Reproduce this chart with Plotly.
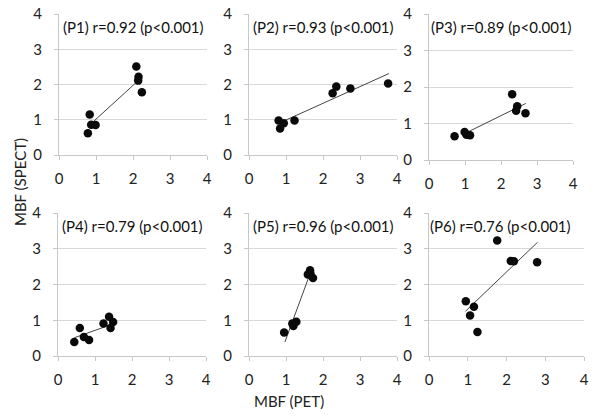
import plotly.graph_objects as go

# MBF (PET) vs MBF (SPECT), six patients
panel_labels = ["(P1) r=0.92 (p<0.001)", "(P2) r=0.93 (p<0.001)", "(P3) r=0.89 (p<0.001)",
                "(P4) r=0.79 (p<0.001)", "(P5) r=0.96 (p<0.001)", "(P6) r=0.76 (p<0.001)"]

p1_x = [0.83, 0.87, 0.99, 0.78, 2.09, 2.15, 2.14, 2.24]
p1_y = [1.15, 0.86, 0.85, 0.62, 2.51, 2.22, 2.11, 1.78]
p2_x = [0.80, 0.84, 0.94, 1.23, 2.26, 2.36, 2.74, 3.76]
p2_y = [0.98, 0.75, 0.90, 0.98, 1.75, 1.94, 1.89, 2.03]
p3_x = [0.71, 0.99, 1.04, 1.14, 2.31, 2.45, 2.42, 2.68]
p3_y = [0.65, 0.77, 0.69, 0.68, 1.80, 1.47, 1.35, 1.28]
p4_x = [0.44, 0.59, 0.70, 0.84, 1.23, 1.38, 1.49, 1.42]
p4_y = [0.39, 0.78, 0.53, 0.45, 0.91, 1.10, 0.95, 0.78]
p5_x = [0.95, 1.17, 1.20, 1.28, 1.65, 1.59, 1.66, 1.73]
p5_y = [0.66, 0.91, 0.84, 0.96, 2.40, 2.28, 2.31, 2.18]
p6_x = [1.76, 2.11, 2.19, 2.79, 0.95, 1.16, 1.06, 1.25]
p6_y = [3.23, 2.66, 2.65, 2.62, 1.53, 1.38, 1.13, 0.67]

# linear trendline end points
fit_x = [[0.90, 2.11], [0.89, 3.78], [0.94, 2.69], [0.44, 1.52], [0.97, 1.66], [0.94, 2.80]]
fit_y = [[0.92, 2.08], [0.94, 2.31], [0.70, 1.55], [0.51, 0.91], [0.39, 2.33], [1.25, 3.18]]

xs = [p1_x, p2_x, p3_x, p4_x, p5_x, p6_x]
ys = [p1_y, p2_y, p3_y, p4_y, p5_y, p6_y]
label_x = [2, 2, 2, 2, 2, 1.85]

W, H = 600, 418
# plot areas in pixels: left, right, top, bottom
boxes = [(59, 207, 14, 155), (249, 397, 14, 155), (429, 573, 14, 160),
         (58, 206, 213, 356), (249, 397, 213, 356), (429, 584, 213, 356)]

FONT = "Lato, 'Liberation Sans', Arial, sans-serif"

fig = go.Figure()
layout = {}
for i in range(6):
    n = "" if i == 0 else str(i + 1)
    l, r, t, b = boxes[i]
    layout["xaxis" + n] = dict(
        domain=[l / W, r / W], anchor="y" + n, range=[0, 4], dtick=1,
        showgrid=False, zeroline=False, showline=True, linecolor="#c8c8c8",
        ticks="outside", ticklen=4, tickcolor="#c8c8c8", ticklabelstandoff=6,
        tickfont=dict(size=15, color="#222"), fixedrange=True, automargin=False,
    )
    layout["yaxis" + n] = dict(
        domain=[1 - b / H, 1 - t / H], anchor="x" + n, range=[0, 4], dtick=1,
        showgrid=True, gridcolor="#d9d9d9", zeroline=False, showline=True,
        linecolor="#c8c8c8", ticks="outside", ticklen=4, tickcolor="#c8c8c8",
        ticklabelstandoff=9, automargin=False,
        tickfont=dict(size=15, color="#222"), fixedrange=True,
    )
    fig.add_trace(go.Scatter(
        x=fit_x[i], y=fit_y[i], mode="lines",
        line=dict(color="#444", width=1),
        xaxis="x" + n, yaxis="y" + n, showlegend=False,
    ))
    fig.add_trace(go.Scatter(
        x=xs[i], y=ys[i], mode="markers",
        marker=dict(color="#0a0a0a", size=8.5, line=dict(width=0)),
        xaxis="x" + n, yaxis="y" + n, showlegend=False,
    ))
    fig.add_annotation(
        x=label_x[i], y=3.64, xref="x" + n, yref="y" + n,
        text=panel_labels[i], showarrow=False,
        font=dict(size=15, color="#111", family=FONT),
    )

fig.add_annotation(x=20 / W, y=1 - 182 / H, xref="paper", yref="paper",
                   xanchor="center", yanchor="middle",
                   text="MBF (SPECT)", textangle=-90, showarrow=False,
                   font=dict(size=15, color="#222", family=FONT))
fig.add_annotation(x=289 / W, y=1 - 401 / H, xref="paper", yref="paper",
                   xanchor="center", yanchor="middle",
                   text="MBF (PET)", showarrow=False,
                   font=dict(size=15, color="#222", family=FONT))

fig.update_layout(
    **layout,
    width=W, height=H,
    margin=dict(l=0, r=0, t=0, b=0),
    paper_bgcolor="white", plot_bgcolor="white",
    font=dict(family=FONT),
)

# drop the browser's default 8px body margin so the figure sits at the page corner
fig.write_html("out.html", config={"displayModeBar": False},
               post_script="document.body.style.margin = '0';")
